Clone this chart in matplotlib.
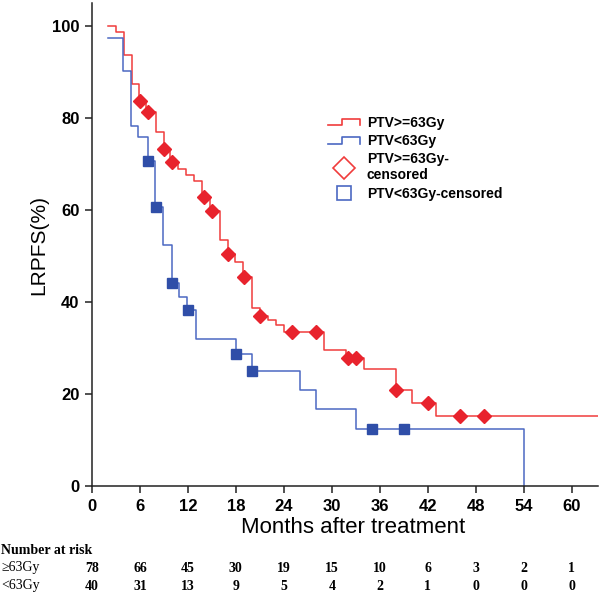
import numpy as np
import matplotlib
matplotlib.use("Agg")
import matplotlib.pyplot as plt
import matplotlib.transforms as mtransforms
from matplotlib.lines import Line2D
from matplotlib.legend_handler import HandlerBase

# ---------------- data ----------------
red_times = [2, 3, 4, 5, 5.9, 6.8, 8, 9, 9.8, 10.8, 11.8, 12.8, 13.8, 14.8, 16, 17,
             17.9, 18.9, 20, 21, 22, 23, 24, 29, 31.8, 34, 38, 40, 43, 63.3]
red_surv = [100, 98.6, 93.7, 87.3, 83.8, 81.3, 76.9, 73.2, 70.4, 69.0, 67.7, 66.3, 62.8,
            59.8, 53.5, 50.4, 48.8, 45.4, 38.6, 37.0, 36.0, 35.0, 33.5, 29.6, 27.8, 25.4,
            20.9, 18.1, 15.2, 15.2]
red_cens_t = [6, 7, 9, 10, 14, 15, 17, 19, 21, 25, 28, 32, 33, 38, 42, 46, 49]
red_cens_s = [83.8, 81.3, 73.2, 70.4, 62.8, 59.8, 50.4, 45.4, 37.0, 33.5, 33.5, 27.8,
              27.8, 20.9, 18.1, 15.2, 15.2]

blue_times = [2, 3.9, 4.9, 5.8, 7, 7.9, 8.9, 10, 10.9, 11.9, 13, 18, 20, 26, 28, 33, 54, 54]
blue_surv = [97.5, 90.3, 78.3, 75.8, 70.7, 60.7, 52.4, 44.1, 41.2, 38.3, 31.9, 28.7, 25.1,
             20.9, 16.7, 12.5, 0, 0]
blue_cens_t = [7, 8, 10, 12, 18, 20, 35, 39]
blue_cens_s = [70.7, 60.7, 44.1, 38.3, 28.7, 25.1, 12.5, 12.5]

risk_times = [0, 6, 12, 18, 24, 30, 36, 42, 48, 54, 60]
risk_high = [78, 66, 45, 30, 19, 15, 10, 6, 3, 2, 1]
risk_low = [40, 31, 13, 9, 5, 4, 2, 1, 0, 0, 0]

labels = ["PTV>=63Gy", "PTV<63Gy", "PTV>=63Gy-\ncensored", "PTV<63Gy-censored"]
row_labels = ["\u226563Gy", "<63Gy"]

RED_LINE = "#f03c3c"
BLUE_LINE = "#4b68c2"
RED_MK = "#e8232d"
BLUE_MK = "#2f4ea8"

narrow = ["Liberation Sans Narrow", "Liberation Sans", "DejaVu Sans"]

fig = plt.figure(figsize=(6.0, 5.97), dpi=100)
ax = fig.add_axes([0.1533, 0.1859, 0.8433, 0.809])

ax.step(red_times, red_surv, where="post", color=RED_LINE, lw=1.1)
ax.step(blue_times, blue_surv, where="post", color=BLUE_LINE, lw=1.1)
ax.plot(red_cens_t, red_cens_s, ls="none", marker="D", ms=7.5, color=RED_MK, mec=RED_MK)
ax.plot(blue_cens_t, blue_cens_s, ls="none", marker="s", ms=6.5, color=BLUE_MK, mec=BLUE_MK)

ax.set_xlim(0, 63.3)
ax.set_ylim(0, 105)
ax.set_xticks(risk_times)
ax.set_yticks([0, 20, 40, 60, 80, 100])
for s in ["top", "right"]:
    ax.spines[s].set_visible(False)
for s in ["left", "bottom"]:
    ax.spines[s].set_linewidth(1.1)
    ax.spines[s].set_color("#222222")
ax.tick_params(direction="out", length=5, width=1.1, color="#222222", pad=4)
for lab in ax.get_xticklabels() + ax.get_yticklabels():
    lab.set_family(narrow)
    lab.set_fontweight("bold")
    lab.set_fontsize(12)

ax.set_xlabel("Months after treatment", family=["Liberation Sans", "DejaVu Sans"],
              fontsize=16, labelpad=1)
ax.xaxis.set_label_coords(0.516, -0.064)
ax.set_ylabel("LRPFS(%)", family=["Liberation Sans", "DejaVu Sans"], fontsize=15,
              labelpad=3)


class StepHandler(HandlerBase):
    def __init__(self, color):
        super().__init__()
        self.color = color

    def create_artists(self, legend, orig_handle, xdescent, ydescent, width, height,
                       fontsize, trans):
        xs = np.array([0, 0.45, 0.45, 1.0, 1.0]) * width - xdescent
        ys = np.array([0.15, 0.15, 0.85, 0.85, 0.15]) * height - ydescent
        ln = Line2D(xs, ys, color=self.color, lw=1.2, transform=trans)
        return [ln]


h1 = Line2D([], [], color=RED_LINE)
h2 = Line2D([], [], color=BLUE_LINE)
h3 = Line2D([], [], ls="none", marker="D", ms=11, mfc="white", mec=RED_LINE, mew=1.2)
h4 = Line2D([], [], ls="none", marker="s", ms=10, mfc="white", mec=BLUE_LINE, mew=1.2)
leg = ax.legend([h1, h2, h3, h4], labels, handler_map={h1: StepHandler(RED_LINE),
                                                       h2: StepHandler(BLUE_LINE)},
                loc="upper left", bbox_to_anchor=(0.455, 0.778), frameon=False,
                prop={"family": ["Liberation Sans", "DejaVu Sans"], "weight": "bold",
                      "size": 10},
                handlelength=2.3, handletextpad=0.5, labelspacing=0.3,
                borderaxespad=0)

# number-at-risk table
tr = mtransforms.blended_transform_factory(ax.transData, fig.transFigure)
serif = ["Liberation Serif", "DejaVu Serif"]
fig.text(0.002, 1 - 551 / 597, "Number at risk", family=serif, fontweight="bold",
         fontsize=10, va="center", ha="left")
fig.text(0.002, 1 - 568 / 597, row_labels[0], family=serif, fontsize=10,
         va="center", ha="left")
fig.text(0.002, 1 - 586 / 597, row_labels[1], family=serif, fontsize=10,
         va="center", ha="left")
for t, a, b in zip(risk_times, risk_high, risk_low):
    ax.text(t, 1 - 568 / 597, str(a), transform=tr, family=serif, fontweight="bold",
            fontsize=10, ha="center", va="center", clip_on=False)
    ax.text(t, 1 - 586 / 597, str(b), transform=tr, family=serif, fontweight="bold",
            fontsize=10, ha="center", va="center", clip_on=False)

fig.savefig("out.png", dpi=100)
